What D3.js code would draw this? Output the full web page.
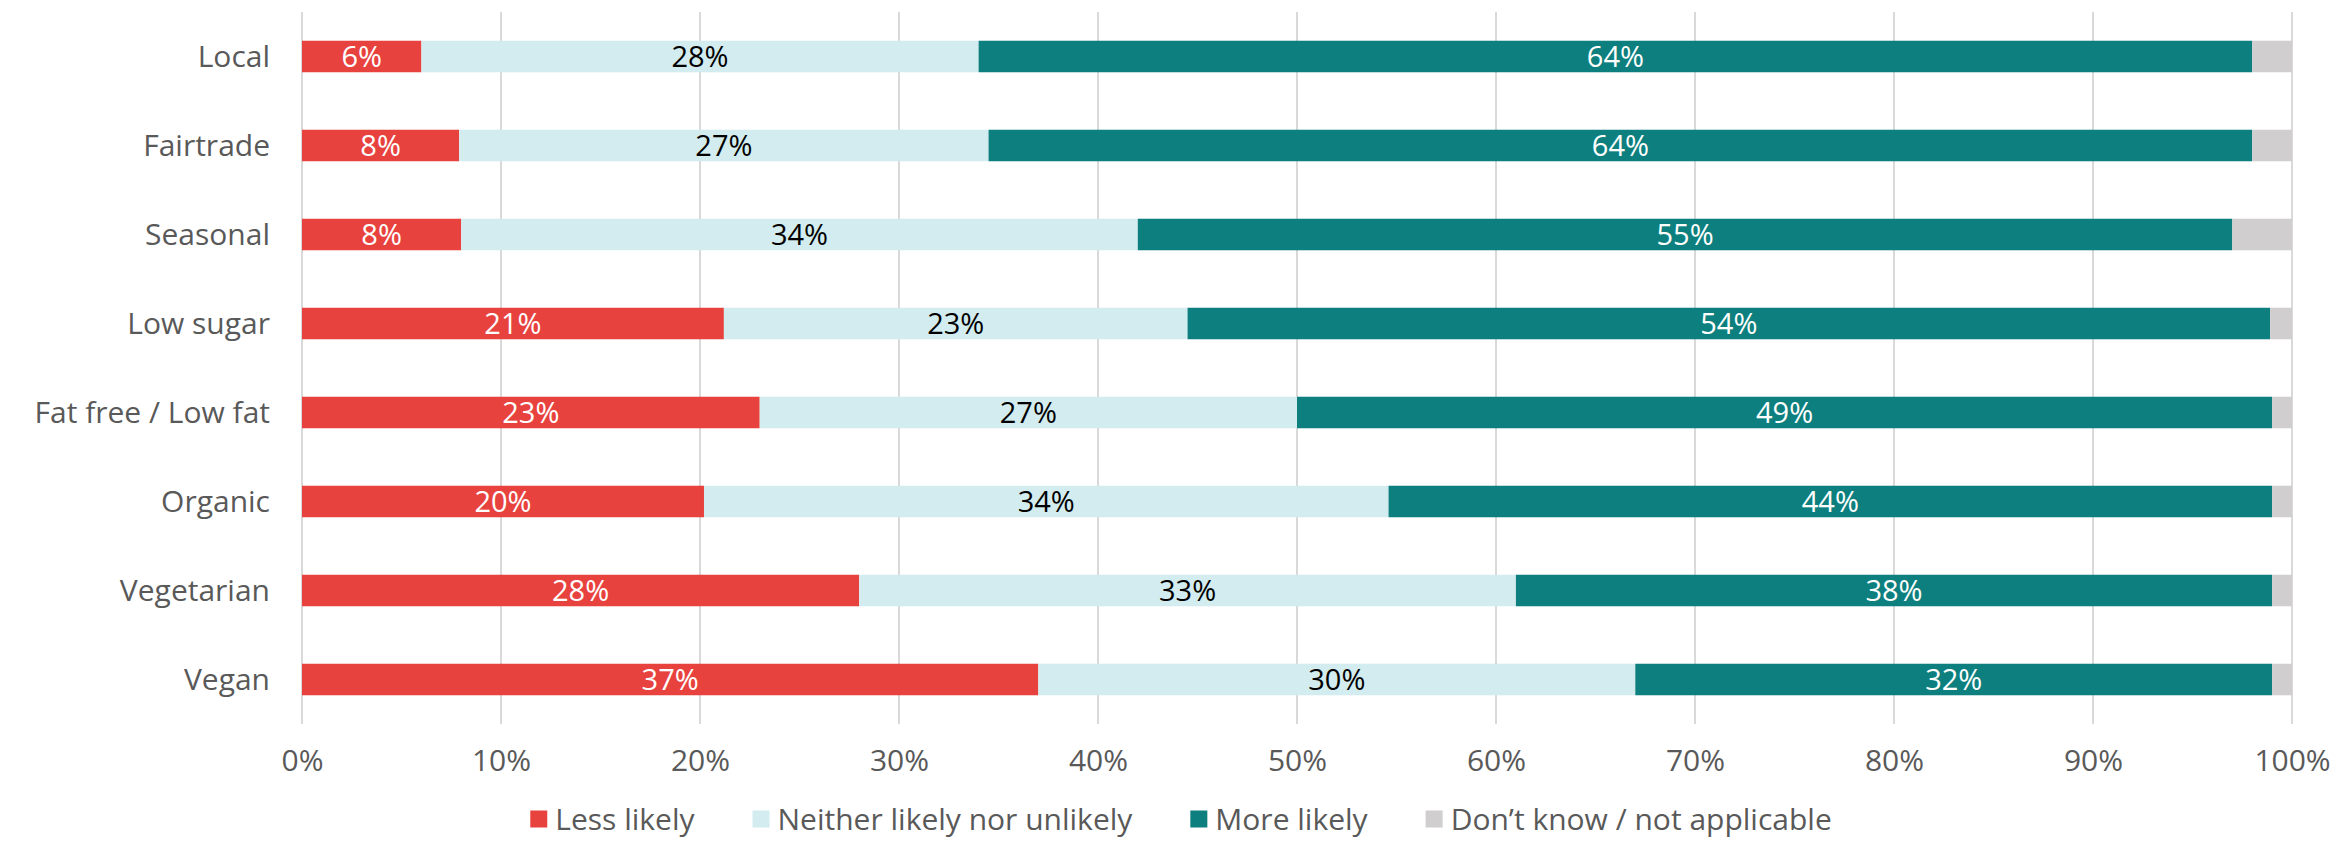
<!DOCTYPE html>
<html lang="en">
<head>
    <meta charset="UTF-8">
    <title>Likelihood by food type</title>
    <script src="https://d3js.org/d3.v7.min.js"></script>
    <style>
        body { margin: 0; background: #fff; }
        text { font-family: "Open Sans", sans-serif; }
    </style>
</head>
<body>
    <svg width="2331" height="842"></svg>
    <script>
        const categories = ["Local", "Fairtrade", "Seasonal", "Low sugar", "Fat free / Low fat", "Organic", "Vegetarian", "Vegan"];
        const seriesNames = ["Less likely", "Neither likely nor unlikely", "More likely", "Don\u2019t know / not applicable"];
        const lessLikely = [6.0, 7.9, 8.0, 21.2, 23.0, 20.2, 28.0, 37.0];
        const neither = [28.0, 26.6, 34.0, 23.3, 27.0, 34.4, 33.0, 30.0];
        const moreLikely = [64.0, 63.5, 55.0, 54.4, 49.0, 44.4, 38.0, 32.0];
        const dontKnow = [2.0, 2.0, 3.0, 1.1, 1.0, 1.0, 1.0, 1.0];
        const xTicks = [0, 10, 20, 30, 40, 50, 60, 70, 80, 90, 100];

        const colors = ["#e8423f", "#d2ecef", "#0d7f7e", "#d0cece"];
        const labelColors = ["#ffffff", "#000000", "#ffffff", null];

        const svg = d3.select("svg");

        const x = d3.scaleLinear().domain([0, 100]).range([302, 2292]);
        const y = d3.scaleBand().domain(categories).range([12, 724])
            .paddingInner(0.646).paddingOuter(0.323);

        // gridlines
        svg.append("g").selectAll("line")
            .data(xTicks)
            .enter().append("line")
            .attr("x1", d => x(d)).attr("x2", d => x(d))
            .attr("y1", 12).attr("y2", 724)
            .attr("stroke", "#d9d9d9")
            .attr("stroke-width", 2);

        const table = categories.map((c, i) => {
            const vals = [lessLikely[i], neither[i], moreLikely[i], dontKnow[i]];
            const o = { category: c };
            seriesNames.forEach((s, j) => o[s] = vals[j]);
            return o;
        });
        const stacked = d3.stack().keys(seriesNames)(table);

        const layer = svg.append("g").selectAll("g")
            .data(stacked)
            .enter().append("g")
            .attr("fill", (d, i) => colors[i]);

        layer.selectAll("rect")
            .data(d => d)
            .enter().append("rect")
            .attr("x", d => x(d[0]))
            .attr("y", d => y(d.data.category))
            .attr("width", d => x(d[1]) - x(d[0]))
            .attr("height", y.bandwidth());

        // value labels
        stacked.forEach((s, i) => {
            if (!labelColors[i]) return;
            svg.append("g").selectAll("text")
                .data(s)
                .enter().append("text")
                .attr("x", d => (x(d[0]) + x(d[1])) / 2)
                .attr("y", d => y(d.data.category) + y.bandwidth() / 2)
                .attr("dy", "0.36em")
                .attr("text-anchor", "middle")
                .attr("font-size", 29)
                .attr("fill", labelColors[i])
                .text(d => Math.round(d[1] - d[0]) + "%");
        });

        // category labels
        const yAxis = svg.append("g")
            .attr("transform", "translate(302,0)")
            .call(d3.axisLeft(y).tickSize(0).tickPadding(32));
        yAxis.select(".domain").remove();
        yAxis.selectAll("text")
            .attr("font-size", 30)
            .attr("fill", "#595959")
            .attr("dy", "0.36em")
            .style("font-family", "'Open Sans', sans-serif");

        // x axis labels
        const xAxis = svg.append("g")
            .attr("transform", "translate(0,724)")
            .call(d3.axisBottom(x).tickValues(xTicks).tickSize(0).tickPadding(26).tickFormat(d => d + "%"));
        xAxis.select(".domain").remove();
        xAxis.selectAll("text")
            .attr("font-size", 30)
            .attr("fill", "#595959")
            .style("font-family", "'Open Sans', sans-serif");

        // legend
        const legendY = 819;
        const items = svg.append("g").selectAll("g")
            .data(seriesNames)
            .enter().append("g");
        items.append("rect")
            .attr("y", legendY - 8.5)
            .attr("width", 17).attr("height", 17)
            .attr("fill", (d, i) => colors[i]);
        items.append("text")
            .attr("x", 25)
            .attr("y", legendY)
            .attr("dy", "0.36em")
            .attr("font-size", 30)
            .attr("fill", "#595959")
            .text(d => d);
        const widths = [];
        items.each(function () {
            widths.push(25 + d3.select(this).select("text").node().getComputedTextLength());
        });
        const total = d3.sum(widths) + 58 * (widths.length - 1);
        let offset = 1181 - total / 2;
        items.attr("transform", (d, i) => {
            const t = "translate(" + offset + ",0)";
            offset += widths[i] + 58;
            return t;
        });
    </script>
</body>
</html>
